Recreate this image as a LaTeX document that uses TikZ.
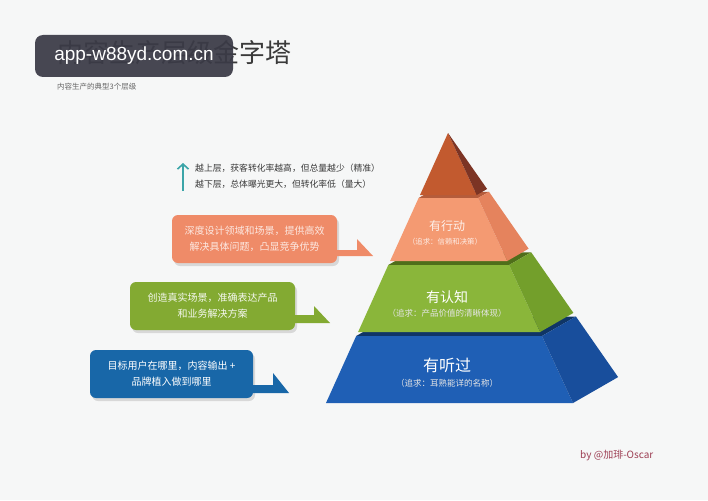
\documentclass[tikz,border=0pt]{standalone}
\usepackage{fontspec}
\setmainfont{Noto Sans CJK SC}
\newfontfamily\wmfont{Liberation Sans}
\usetikzlibrary{arrows.meta}
\definecolor{bgc}{HTML}{F6F7F7}
\definecolor{titlec}{HTML}{3A3A3A}
\definecolor{subc}{HTML}{666666}
\definecolor{tealc}{HTML}{3BA5A8}
\definecolor{tipF}{HTML}{C25A2F}
\definecolor{tipS}{HTML}{7C3424}
\definecolor{orF}{HTML}{F49A72}
\definecolor{orS}{HTML}{E5835D}
\definecolor{orT}{HTML}{B55C3B}
\definecolor{grF}{HTML}{8AB63A}
\definecolor{grS}{HTML}{739F2B}
\definecolor{grT}{HTML}{4F6E1A}
\definecolor{blF}{HTML}{1F5FB5}
\definecolor{blS}{HTML}{184E9C}
\definecolor{blT}{HTML}{0F3566}
\definecolor{oboxc}{HTML}{EF8B68}
\definecolor{gboxc}{HTML}{83AA32}
\definecolor{bboxc}{HTML}{1867A8}
\definecolor{sigc}{HTML}{9C3D52}
\definecolor{wmc}{HTML}{3A3A46}
\begin{document}
\begin{tikzpicture}[x=1pt,y=-1pt,
  callout/.style={rounded corners=6pt, minimum width=165pt, minimum height=48pt, inner sep=0pt, align=center, font=\fontsize{10}{16}\selectfont},
  shadowc/.style={fill=black, opacity=0.12, rounded corners=6pt},
  tierlabel/.style={text=white, inner sep=0pt},
  tiersub/.style={text=white!90!black, inner sep=0pt}]
% background
\fill[bgc] (0,0) rectangle (708,500);
\useasboundingbox (0,0) rectangle (708,500);

% title and subtitle
\node[anchor=west, text=titlec, inner sep=0pt, font=\fontsize{26}{26}\selectfont] (title) at (57,53) {内容生产层级金字塔};
\node[anchor=west, text=subc, inner sep=0pt, font=\fontsize{7.5}{8}\selectfont] (subtitle) at (57,87) {内容生产的典型3个层级};

% teal arrow and notes
\coordinate (arrbot) at (183,191);
\coordinate (arrtop) at (183,163);
\draw[tealc, line width=1.6pt, -{Straight Barb[length=5pt,width=11pt]}] (arrbot) -- (arrtop);
\node[anchor=west, inner sep=0pt, text=titlec, font=\fontsize{8.8}{9}\selectfont] (note1) at (195,168) {越上层，获客转化率越高，但总量越少（精准）};
\node[anchor=west, inner sep=0pt, text=titlec, font=\fontsize{8.8}{9}\selectfont] (note2) at (195,184) {越下层，总体曝光更大，但转化率低（量大）};

% ---- pyramid ----
% blue tier
\fill[blT] (356.2,336) -- (542.0,336) -- (575.9,316.5) -- (390.1,316.5) -- cycle;
\fill[blF] (356.2,336) -- (542.0,336) -- (573.0,403) -- (326.0,403) -- cycle;
\fill[blS] (542.0,336) -- (575.9,316.5) -- (618.1,377.1) -- (573.0,403) -- cycle;
% green tier
\fill[grT] (388.3,265) -- (509.1,265) -- (531.2,252.3) -- (410.3,252.3) -- cycle;
\fill[grF] (388.3,265) -- (509.1,265) -- (540.1,332) -- (358.1,332) -- cycle;
\fill[grS] (509.1,265) -- (531.2,252.3) -- (573.4,312.9) -- (540.1,332) -- cycle;
% orange tier
\fill[orT] (418.6,198) -- (478.1,198) -- (489.0,191.8) -- (429.5,191.8) -- cycle;
\fill[orF] (418.6,198) -- (478.1,198) -- (507.3,261) -- (390.1,261) -- cycle;
\fill[orS] (478.1,198) -- (489.0,191.8) -- (528.6,248.7) -- (507.3,261) -- cycle;
% tip
\fill[tipF] (448,133) -- (476.7,195) -- (420,195) -- cycle;
\fill[tipS] (448,133) -- (487.1,189.0) -- (476.7,195) -- cycle;

% tier labels
\node[tierlabel, font=\fontsize{12}{12}\selectfont, text=white!85!orF] (l3) at (447,226) {有行动};
\node[tiersub, font=\fontsize{7.4}{8}\selectfont, text=white!80!orF] (s3) at (445,242) {（追求：信赖和决策）};
\node[tierlabel, font=\fontsize{14}{14}\selectfont] (l2) at (447,297) {有认知};
\node[tiersub, font=\fontsize{8.5}{9}\selectfont] (s2) at (447,313) {（追求：产品价值的清晰体现）};
\node[tierlabel, font=\fontsize{16}{16}\selectfont] (l1) at (447,365) {有听过};
\node[tiersub, font=\fontsize{8.5}{9}\selectfont] (s1) at (447,383) {（追求：耳熟能详的名称）};

% ---- callout boxes ----
% orange
\fill[shadowc] (174,218) rectangle (339,266);
\fill[oboxc] (330,250) -- (357,250) -- (357,239) -- (373,256) -- (330,256) -- cycle;
\node[callout, fill=oboxc, text=white!80!oboxc] (ob) at (254.5,239) {深度设计领域和场景，提供高效\\解决具体问题，凸显竞争优势};
% green
\fill[shadowc] (132,285) rectangle (297,333);
\fill[gboxc] (288,315) -- (314,315) -- (314,306) -- (330,323) -- (288,323) -- cycle;
\node[callout, fill=gboxc, text=white!92!gboxc] (gb) at (212.5,306) {创造真实场景，准确表达产品\\和业务解决方案};
% blue
\fill[shadowc] (92,353) rectangle (255,401);
\fill[bboxc] (246,385) -- (273,385) -- (273,373) -- (289,393) -- (246,393) -- cycle;
\node[callout, minimum width=163pt, fill=bboxc, text=white] (bb) at (171.5,374) {目标用户在哪里，内容输出 +\\品牌植入做到哪里};

% signature
\node[anchor=west, inner sep=0pt, text=sigc, font=\fontsize{10}{10}\selectfont] (sig) at (580,455) {by @加琲-Oscar};

% watermark
\node[fill=wmc, fill opacity=0.93, text opacity=1, rounded corners=8pt, minimum width=198pt, minimum height=42pt, inner sep=0pt, text=white, font=\wmfont\fontsize{19}{19}\selectfont] (wm) at (134,56) {app-w88yd.com.cn};
\end{tikzpicture}
\end{document}
